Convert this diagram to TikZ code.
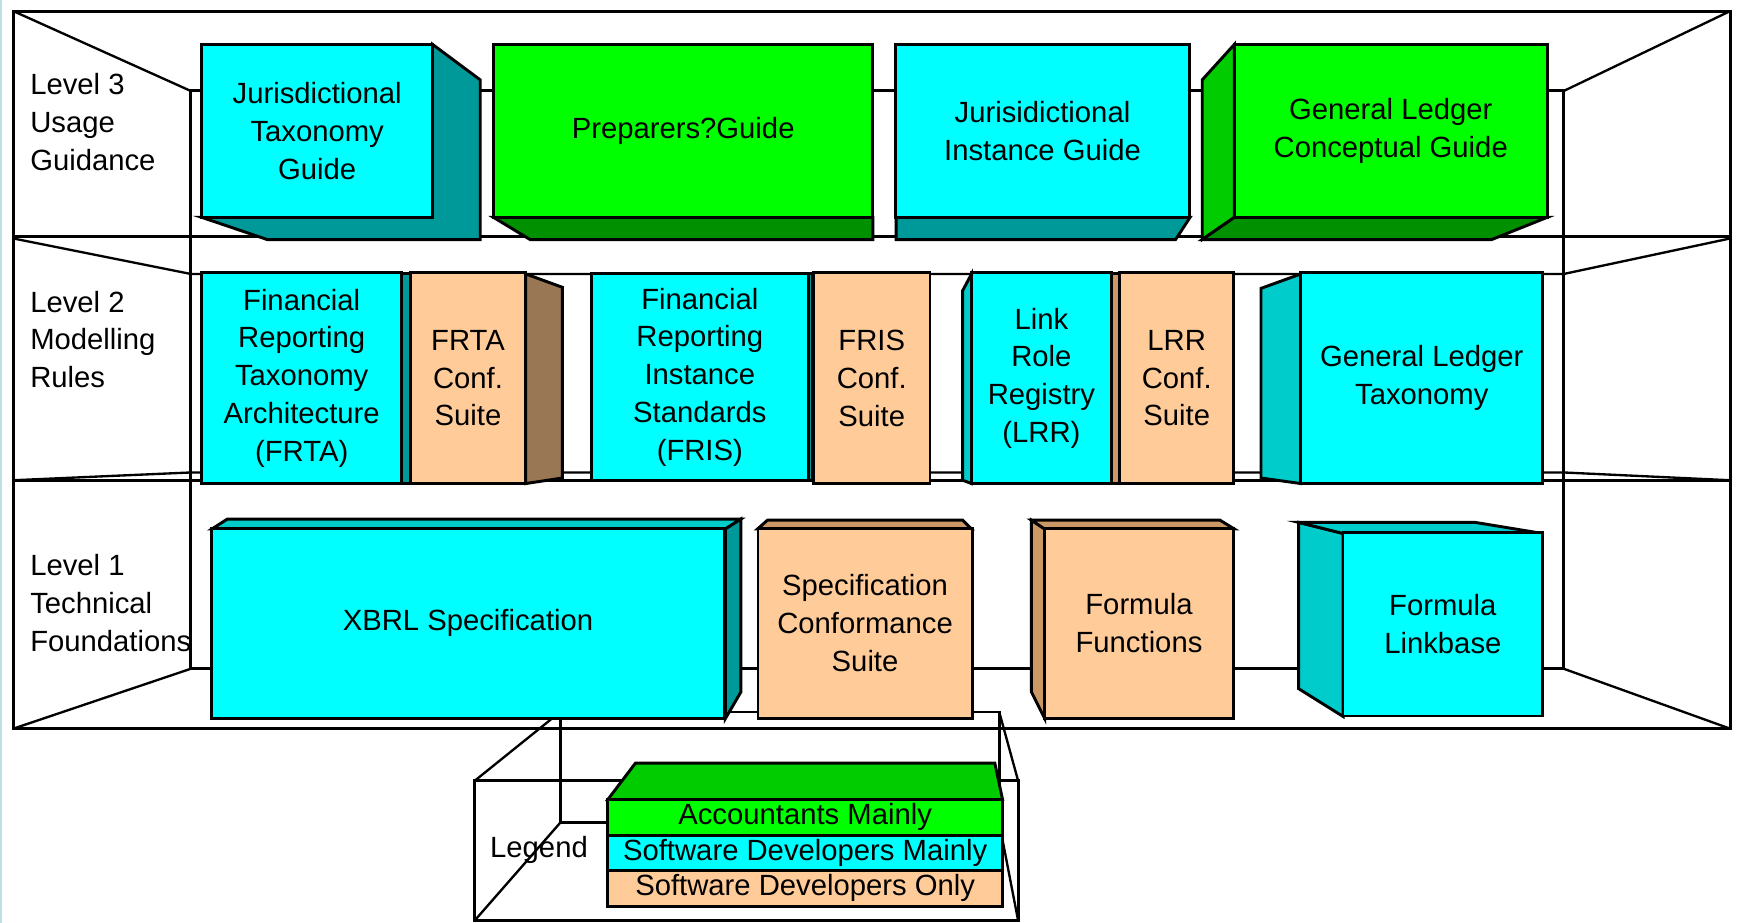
\documentclass[tikz,border=0pt]{standalone}
\usepackage{fontspec}
\setmainfont{Liberation Sans}
\definecolor{cyanfront}{HTML}{00FFFF}
\definecolor{cyanside}{HTML}{00CCCC}
\definecolor{cyandark}{HTML}{009999}
\definecolor{greenfront}{HTML}{00FF00}
\definecolor{greenside}{HTML}{00CC00}
\definecolor{greendark}{HTML}{009000}
\definecolor{peachfront}{HTML}{FFCC99}
\definecolor{peachside}{HTML}{CC9966}
\definecolor{peachdark}{HTML}{997755}
\definecolor{edgeblue}{HTML}{BEE0E6}

\begin{document}
\begin{tikzpicture}[x=0.01cm,y=-0.01cm,line width=0.75pt,line join=miter,
  every node/.style={font=\fontsize{7.5}{9.7}\selectfont,inner sep=0pt},
  face/.style={draw=black,rectangle,align=center},
  label/.style={anchor=west,align=left},
  wall/.style={line width=0.6pt}]
\useasboundingbox (0,0) rectangle (1568,832);
\fill[edgeblue] (0,0) rectangle (2,832);

% room
\draw (12,10) rectangle (1560,657);
\draw (172,82) rectangle (1410,603);
\draw[wall] (12,10) -- (172,82);
\draw[wall] (1560,10) -- (1410,82);
\draw[wall] (12,657) -- (172,603);
\draw[wall] (1560,657) -- (1410,603);
\draw (12,213) -- (1560,213);
\draw[wall] (12,215) -- (172,247) -- (1410,247) -- (1560,215);
\draw (12,433) -- (1560,433);
\draw[wall] (12,433) -- (172,426) -- (1410,426) -- (1560,433);

% legend box behind
\draw (505,642) rectangle (901,742);
\draw (428,704) rectangle (918,830);
\draw[wall] (428,704) -- (505,642);
\draw[wall] (428,830) -- (505,742);
\draw[wall] (918,704) -- (901,642);
\draw[wall] (918,830) -- (901,742);

% side faces
\begin{scope}[draw=black]
  \filldraw[fill=cyandark] (390,40) -- (433,72) -- (433,216) -- (241,216) -- (182,196) -- (390,196) -- cycle;
  \filldraw[fill=greendark] (445,196) -- (787,196) -- (787,216) -- (478,216) -- cycle;
  \filldraw[fill=cyandark] (808,196) -- (1073,196) -- (1060,216) -- (808,216) -- cycle;
  \filldraw[fill=greenside] (1113,40) -- (1084,72) -- (1084,216) -- (1113,196) -- cycle;
  \filldraw[fill=greendark] (1113,196) -- (1395,196) -- (1345,216) -- (1084,216) -- cycle;

  \filldraw[fill=cyandark] (362,247) rectangle (371,436);
  \filldraw[fill=peachdark] (474,247) -- (507,259) -- (507,431) -- (474,436) -- cycle;
  \filldraw[fill=cyandark] (729,247) rectangle (733,433);
  \filldraw[fill=cyanside] (868,262) -- (876,247) -- (876,436) -- (868,433) -- cycle;
  \filldraw[fill=peachside] (1002,247) rectangle (1010,436);
  \filldraw[fill=cyanside] (1137,260) -- (1173,247) -- (1173,436) -- (1137,431) -- cycle;

  \filldraw[fill=cyanside] (191,477) -- (205,468) -- (668,468) -- (654,477) -- cycle;
  \filldraw[fill=cyandark] (654,477) -- (668,468) -- (668,624) -- (654,648) -- cycle;
  \filldraw[fill=peachside] (683,477) -- (692,469) -- (868,469) -- (876,477) -- cycle;
  \filldraw[fill=peachside] (930,469) -- (942,477) -- (942,648) -- (930,624) -- cycle;
  \filldraw[fill=peachside] (930,469) -- (1100,469) -- (1113,477) -- (942,477) -- cycle;
  \filldraw[fill=cyanside] (1171,471) -- (1211,481) -- (1211,646) -- (1171,621) -- cycle;
  \filldraw[fill=cyanside] (1171,471) -- (1330,471) -- (1391,481) -- (1211,481) -- cycle;

  \filldraw[fill=greenside] (548,721) -- (573,688) -- (897,688) -- (904,721) -- cycle;
\end{scope}

% level labels
\node[label] (lev3) at (26,110) {Level 3\\Usage\\Guidance};
\node[label] (lev2) at (26,306) {Level 2\\Modelling\\Rules};
\node[label] (lev1) at (26,544) {Level 1\\Technical\\Foundations};

% level 3
\node[face,fill=cyanfront,minimum width=2.08cm,minimum height=1.56cm] (jtg) at (286,118) {Jurisdictional\\Taxonomy\\Guide};
\node[face,fill=greenfront,minimum width=3.42cm,minimum height=1.56cm] (pg) at (616,118) {Preparers?Guide};
\node[face,fill=cyanfront,minimum width=2.65cm,minimum height=1.56cm] (jig) at (940,118) {Jurisidictional\\Instance Guide};
\node[face,fill=greenfront,minimum width=2.82cm,minimum height=1.56cm] (glcg) at (1254,118) {General Ledger\\Conceptual Guide};

% level 2
\node[face,fill=cyanfront,minimum width=1.80cm,minimum height=1.90cm] (frta) at (272,341) {Financial\\Reporting\\Taxonomy\\Architecture\\(FRTA)};
\node[face,fill=peachfront,minimum width=1.03cm,minimum height=1.90cm] (frtacs) at (422,341) {FRTA\\Conf.\\Suite};
\node[face,fill=cyanfront,minimum width=1.95cm,minimum height=1.87cm] (fris) at (631,340) {Financial\\Reporting\\Instance\\Standards\\(FRIS)};
\node[face,fill=peachfront,minimum width=1.05cm,minimum height=1.90cm] (friscs) at (786,341) {FRIS\\Conf.\\Suite};
\node[face,fill=cyanfront,minimum width=1.26cm,minimum height=1.90cm] (lrr) at (939,341) {Link\\Role\\Registry\\(LRR)};
\node[face,fill=peachfront,minimum width=1.03cm,minimum height=1.90cm] (lrrcs) at (1061,341) {LRR\\Conf.\\Suite};
\node[face,fill=cyanfront,minimum width=2.18cm,minimum height=1.90cm] (glt) at (1282,341) {General Ledger\\Taxonomy};

% level 1
\node[face,fill=cyanfront,minimum width=4.63cm,minimum height=1.71cm] (xbrl) at (422,562) {XBRL Specification};
\node[face,fill=peachfront,minimum width=1.93cm,minimum height=1.71cm] (scs) at (780,562) {Specification\\Conformance\\Suite};
\node[face,fill=peachfront,minimum width=1.71cm,minimum height=1.71cm] (ff) at (1027,562) {Formula\\Functions};
\node[face,fill=cyanfront,minimum width=1.80cm,minimum height=1.65cm] (fl) at (1301,563) {Formula\\Linkbase};

% legend
\node (leg) at (486,766) {Legend};
\node[face,fill=greenfront,minimum width=3.56cm,minimum height=0.32cm] (accm) at (726,737) {Accountants Mainly};
\node[face,fill=cyanfront,minimum width=3.56cm,minimum height=0.32cm] (sdm) at (726,769) {Software Developers Mainly};
\node[face,fill=peachfront,minimum width=3.56cm,minimum height=0.32cm] (sdo) at (726,801) {Software Developers Only};
\end{tikzpicture}
\end{document}
